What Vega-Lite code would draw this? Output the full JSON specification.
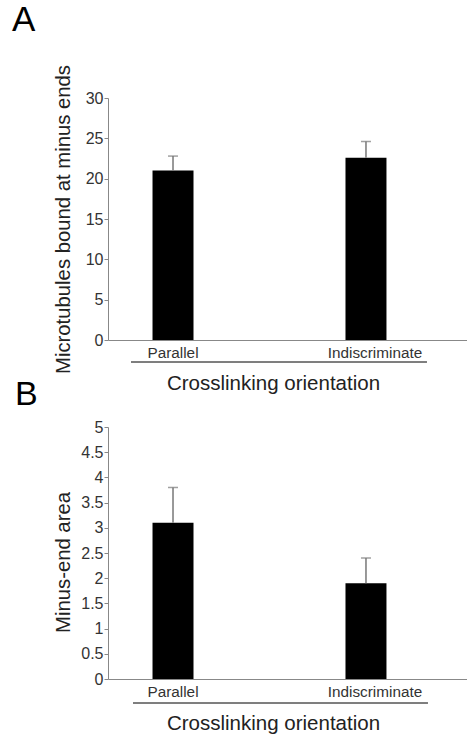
{
  "$schema": "https://vega.github.io/schema/vega-lite/v6.json",
  "background": "white",
  "padding": {"left": 12, "top": 2, "right": 0, "bottom": 0},
  "config": {
    "font": "Liberation Sans",
    "view": {"stroke": null},
    "title": {"fontWeight": "normal", "color": "#000", "anchor": "start", "frame": "group"},
    "axisY": {"domainColor": "#888", "tickColor": "#888", "tickSize": 4, "labelColor": "#333", "labelFontSize": 16, "labelPadding": 1, "labelOverlap": false, "grid": false, "titleFontSize": 20.3, "titleFontWeight": "normal", "titleColor": "#222", "titleBaseline": "middle", "titleX": -45},
    "axisX": {"domainColor": "#888", "ticks": false, "labelColor": "#333", "labelFontSize": 15.3, "labelPadding": 5, "labelAngle": 0, "titleFontSize": 20.5, "titleFontWeight": "normal", "titleColor": "#222", "titleBaseline": "middle", "titleX": 165, "titleY": 43}
  },
  "datasets": {
    "bound": [
      {"orientation": "Parallel", "mean": 21.0, "upper": 22.8},
      {"orientation": "Indiscriminate", "mean": 22.6, "upper": 24.6}
    ],
    "area": [
      {"orientation": "Parallel", "mean": 3.1, "upper": 3.8},
      {"orientation": "Indiscriminate", "mean": 1.9, "upper": 2.4}
    ]
  },
  "bounds": "flush",
  "spacing": 87,
  "vconcat": [
    {
      "title": {"text": "A", "fontSize": 35, "dx": -96, "offset": 27},
      "width": 359,
      "height": 242,
      "data": {"name": "bound"},
      "layer": [
        {
          "mark": {"type": "bar", "color": "#000"},
          "encoding": {
            "x": {"field": "orientation", "type": "nominal", "sort": ["Parallel", "Indiscriminate"],
                  "scale": {"type": "band", "paddingInner": 0.7876, "paddingOuter": 0.324, "align": 0.356},
                  "axis": {"title": "Crosslinking orientation", "labelOffset": {"condition": {"test": "datum.value === 'Indiscriminate'", "value": 9}, "value": 0}}},
            "y": {"field": "mean", "type": "quantitative", "scale": {"domain": [0, 30]},
                  "axis": {"title": "Microtubules bound at minus ends", "tickCount": 7, "values": [0, 5, 10, 15, 20, 25, 30]}}
          }
        },
        {
          "mark": {"type": "rule", "color": "#777", "strokeWidth": 1.5},
          "encoding": {
            "x": {"field": "orientation", "type": "nominal", "sort": ["Parallel", "Indiscriminate"]},
            "y": {"field": "mean", "type": "quantitative"},
            "y2": {"field": "upper"}
          }
        },
        {
          "mark": {"type": "tick", "color": "#777", "size": 10, "thickness": 1.5},
          "encoding": {
            "x": {"field": "orientation", "type": "nominal", "sort": ["Parallel", "Indiscriminate"]},
            "y": {"field": "upper", "type": "quantitative"}
          }
        },
        {
          "mark": {"type": "rule", "color": "#555", "strokeWidth": 1, "xOffset": -42, "x2Offset": 61, "yOffset": 22},
          "encoding": {
            "x": {"datum": "Parallel", "type": "nominal", "bandPosition": 0.5},
            "x2": {"datum": "Indiscriminate", "bandPosition": 0.5},
            "y": {"datum": 0, "type": "quantitative"}
          }
        }
      ]
    },
    {
      "title": {"text": "B", "fontSize": 34, "dx": -93, "offset": 7},
      "width": 359,
      "height": 252,
      "data": {"name": "area"},
      "layer": [
        {
          "mark": {"type": "bar", "color": "#000"},
          "encoding": {
            "x": {"field": "orientation", "type": "nominal", "sort": ["Parallel", "Indiscriminate"],
                  "scale": {"type": "band", "paddingInner": 0.7876, "paddingOuter": 0.324, "align": 0.356},
                  "axis": {"title": "Crosslinking orientation", "titleY": 44, "labelOffset": {"condition": {"test": "datum.value === 'Indiscriminate'", "value": 9}, "value": 0}}},
            "y": {"field": "mean", "type": "quantitative", "scale": {"domain": [0, 5]},
                  "axis": {"title": "Minus-end area", "titleY": 135, "format": "~g", "tickCount": 11, "values": [0, 0.5, 1, 1.5, 2, 2.5, 3, 3.5, 4, 4.5, 5]}}
          }
        },
        {
          "mark": {"type": "rule", "color": "#777", "strokeWidth": 1.5},
          "encoding": {
            "x": {"field": "orientation", "type": "nominal", "sort": ["Parallel", "Indiscriminate"]},
            "y": {"field": "mean", "type": "quantitative"},
            "y2": {"field": "upper"}
          }
        },
        {
          "mark": {"type": "tick", "color": "#777", "size": 10, "thickness": 1.5},
          "encoding": {
            "x": {"field": "orientation", "type": "nominal", "sort": ["Parallel", "Indiscriminate"]},
            "y": {"field": "upper", "type": "quantitative"}
          }
        },
        {
          "mark": {"type": "rule", "color": "#555", "strokeWidth": 1, "xOffset": -40, "x2Offset": 62, "yOffset": 24},
          "encoding": {
            "x": {"datum": "Parallel", "type": "nominal", "bandPosition": 0.5},
            "x2": {"datum": "Indiscriminate", "bandPosition": 0.5},
            "y": {"datum": 0, "type": "quantitative"}
          }
        }
      ]
    }
  ]
}
